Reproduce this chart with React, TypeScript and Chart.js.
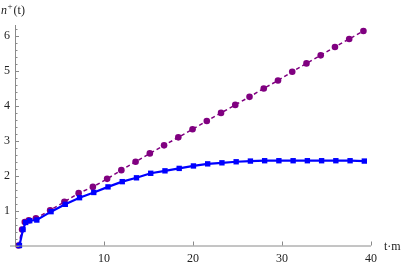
import React, { useEffect, useRef } from "react";
import { Chart, registerables } from "chart.js";

Chart.register(...registerables);

const tValues = [0.5, 0.9, 1.2, 1.65, 2.45, 4.05, 5.65, 7.25, 8.85, 10.45, 12.05, 13.65, 15.25, 16.85, 18.45, 20.05, 21.65, 23.25, 24.85, 26.45, 28.05, 29.65, 31.25, 32.85, 34.45, 36.05, 37.65, 39.25];
const blueValues = [0, 0.46, 0.66, 0.71, 0.73, 0.97, 1.18, 1.37, 1.52, 1.68, 1.83, 1.94, 2.07, 2.14, 2.21, 2.28, 2.34, 2.37, 2.4, 2.42, 2.43, 2.43, 2.43, 2.43, 2.43, 2.43, 2.43, 2.42];
const purpleValues = [0, 0.46, 0.67, 0.72, 0.78, 1.01, 1.25, 1.5, 1.68, 1.91, 2.16, 2.4, 2.64, 2.87, 3.1, 3.33, 3.57, 3.8, 4.03, 4.26, 4.5, 4.73, 4.98, 5.22, 5.45, 5.69, 5.92, 6.15];
const xTickLabels = [10, 20, 30, 40];
const yTickLabels = [1, 2, 3, 4, 5, 6];
const yAxisTitle = { base: "n", sup: "+", rest: "(t)" };
const xAxisTitle = "t·m";

const FONT = '"Liberation Serif", "DejaVu Serif", serif';
const AXIS = "#8a8a8a";

const axesPlugin = {
  id: "mmaAxes",
  afterDraw(chart: any) {
    const { ctx, chartArea, scales } = chart;
    const xs = scales.x;
    const ys = scales.y;
    const y0 = ys.getPixelForValue(0);
    const x0 = xs.getPixelForValue(0);
    ctx.save();
    ctx.strokeStyle = AXIS;
    ctx.lineWidth = 1;
    ctx.beginPath();
    ctx.moveTo(chartArea.left - 5, y0 + 0.5);
    ctx.lineTo(chartArea.right, y0 + 0.5);
    ctx.moveTo(x0 + 0.5, chartArea.top);
    ctx.lineTo(x0 + 0.5, chartArea.bottom);
    for (const v of xTickLabels) {
      const px = Math.round(xs.getPixelForValue(v)) + 0.5;
      ctx.moveTo(px, y0);
      ctx.lineTo(px, y0 - 4);
    }
    for (let i = 0; i <= 31; i++) {
      const v = i * 0.2;
      if (v > ys.max) break;
      const py = Math.round(ys.getPixelForValue(v)) + 0.5;
      const major = i % 5 === 0;
      ctx.moveTo(x0, py);
      ctx.lineTo(x0 + (major ? 4 : 2.5), py);
    }
    ctx.stroke();

    ctx.fillStyle = "#222";
    ctx.textBaseline = "alphabetic";
    ctx.textAlign = "left";
    ctx.font = `italic 12px ${FONT}`;
    ctx.fillText(yAxisTitle.base, 1, 14);
    const w1 = ctx.measureText(yAxisTitle.base).width;
    ctx.font = `9px ${FONT}`;
    ctx.fillText(yAxisTitle.sup, w1 + 1.5, 9);
    const w2 = ctx.measureText(yAxisTitle.sup).width;
    ctx.font = `12px ${FONT}`;
    ctx.fillText(yAxisTitle.rest, w1 + w2 + 2.5, 14);

    ctx.font = `12px ${FONT}`;
    ctx.textBaseline = "middle";
    ctx.fillText(xAxisTitle, chartArea.right + 13, y0 + 1);
    ctx.restore();
  },
};

export default function App() {
  const ref = useRef<HTMLCanvasElement>(null);
  useEffect(() => {
    if (!ref.current) return;
    const chart = new Chart(ref.current, {
      type: "line",
      data: {
        datasets: [
          {
            label: "blue",
            data: tValues.map((t, i) => ({ x: t, y: blueValues[i] })),
            borderColor: "#0000ff",
            backgroundColor: "#0000ff",
            borderWidth: 2.2,
            pointStyle: "rect",
            pointRadius: 3.8,
            pointBorderWidth: 0,
            tension: 0,
            clip: false,
          },
          {
            label: "purple",
            data: tValues.map((t, i) => ({ x: t - 0.1, y: purpleValues[i] })),
            borderColor: "#800080",
            backgroundColor: "#800080",
            borderWidth: 1.5,
            borderDash: [4, 3],
            pointStyle: "circle",
            pointRadius: 3.3,
            pointBorderWidth: 0,
            tension: 0,
            clip: false,
          },
        ],
      },
      options: {
        animation: false,
        responsive: false,
        devicePixelRatio: 1,
        layout: { padding: { left: 0, right: 32, top: 25, bottom: 0 } },
        plugins: { legend: { display: false }, tooltip: { enabled: false } },
        scales: {
          x: {
            type: "linear",
            min: 0,
            max: 40,
            grid: { display: false, drawTicks: false, tickLength: 0 },
            border: { display: false },
            ticks: {
              stepSize: 10,
              padding: 6,
              color: "#222",
              font: { family: FONT, size: 12 },
              maxRotation: 0,
              callback: (v: any) => (xTickLabels.includes(Number(v)) ? String(v) : ""),
            },
            afterFit: (s: any) => {
              s.height = 20.5;
            },
          },
          y: {
            type: "linear",
            min: 0,
            max: 6.32,
            grid: { display: false, drawTicks: false, tickLength: 0 },
            border: { display: false },
            ticks: {
              stepSize: 1,
              includeBounds: false,
              padding: 5,
              color: "#222",
              font: { family: FONT, size: 12 },
              callback: (v: any) => (yTickLabels.includes(Number(v)) ? String(v) : ""),
            },
            afterFit: (s: any) => {
              s.width = 15;
            },
          },
        },
      },
      plugins: [axesPlugin],
    });
    return () => chart.destroy();
  }, []);
  return (
    <div style={{ position: "fixed", left: 0, top: 0, width: 403, height: 266, background: "#fff" }}>
      <canvas ref={ref} width={403} height={266} />
    </div>
  );
}
